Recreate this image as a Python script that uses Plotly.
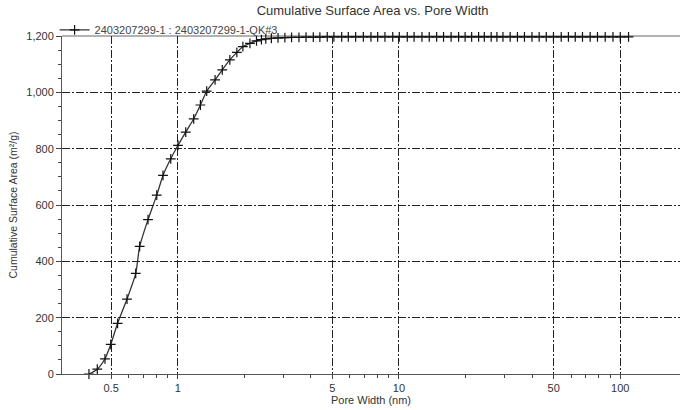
import plotly.graph_objects as go

pore_width = [0.397, 0.433, 0.469, 0.498, 0.535, 0.590, 0.646, 0.673, 0.734,
              0.804, 0.858, 0.930, 1.003, 1.087, 1.181, 1.266, 1.352, 1.475,
              1.59, 1.72, 1.85, 1.97, 2.12, 2.27,
              2.39, 2.50, 2.65, 2.84, 3.05, 3.27, 3.53, 3.80, 4.10, 4.39,
              4.74, 5.08, 5.51, 5.90, 6.37, 6.90, 7.47, 8.01, 8.64, 9.37,
              10.03, 10.9, 11.7, 12.7, 13.7, 14.8, 15.9, 17.2, 18.6, 19.9,
              21.3, 22.9, 24.3, 26.1, 27.7, 29.5, 31.8, 34.3, 36.9, 39.9,
              43.0, 46.3, 49.9, 54.1, 58.3, 62.6, 67.5, 73.1, 78.9, 85.5,
              92.7, 100.0, 109.0]
cum_area = [0, 17, 54, 105, 180, 266, 357, 453, 548,
            635, 705, 764, 812, 859, 906, 955, 1004, 1044,
            1080, 1115, 1142, 1162, 1174, 1183,
            1187, 1190, 1192, 1193, 1194, 1195, 1195, 1196, 1196, 1196,
            1197, 1197, 1197, 1197, 1197, 1197, 1197, 1197, 1197, 1197,
            1197, 1197, 1197, 1197, 1197, 1197, 1197, 1197, 1197, 1197,
            1197, 1197, 1197, 1197, 1197, 1197, 1197, 1197, 1197, 1197,
            1197, 1197, 1197, 1197, 1197, 1197, 1197, 1197, 1197, 1197,
            1197, 1197, 1197]

x_tick_vals = [0.5, 1, 5, 10, 50, 100]
x_tick_text = ["0.5", "1", "5", "10", "50", "100"]
x_minor_vals = [0.6, 0.7, 0.8, 0.9, 2, 3, 4, 6, 7, 8, 9, 20, 30, 40, 60, 70, 80, 90]
y_tick_vals = [0, 200, 400, 600, 800, 1000, 1200]

series_name = "2403207299-1 : 2403207299-1-QK#3"
title_text = "Cumulative Surface Area vs. Pore Width"
font_family = "Liberation Sans, Arial, sans-serif"

fig = go.Figure()
fig.add_trace(go.Scatter(
    x=pore_width, y=cum_area, mode="lines+markers", name=series_name,
    line=dict(color="#333333", width=1.3, shape="spline", smoothing=0.6),
    marker=dict(symbol="cross-thin", size=7, line=dict(color="#111111", width=1.2)),
    cliponaxis=False,
))

griddash = "8px,2px,2px,2px"
fig.update_layout(
    width=680, height=410,
    margin=dict(l=62, r=0, t=36, b=36),
    paper_bgcolor="white", plot_bgcolor="white",
    font=dict(family=font_family, color="#333333", size=11),
    title=dict(text=title_text, x=0.548, xanchor="center", y=0.975, yanchor="middle",
               font=dict(size=13, color="#333333")),
    showlegend=True,
    legend=dict(x=-0.012, xanchor="left", y=1.018, yanchor="middle",
                bgcolor="rgba(0,0,0,0)", font=dict(size=11, color="#444444"),
                itemwidth=30, tracegroupgap=0),
    xaxis=dict(
        type="log", range=[-0.523, 2.27],
        tickmode="array", tickvals=x_tick_vals, ticktext=x_tick_text,
        ticks="outside", ticklen=4, tickcolor="#444444",
        showline=True, linecolor="#555555", linewidth=1, mirror=False,
        showgrid=True, gridcolor="#222222", gridwidth=1, griddash=griddash,
        zeroline=False,
        tickfont=dict(size=11, color="#333333"),
        title=dict(text="Pore Width (nm)", font=dict(size=11, color="#333333"), standoff=0),
        minor=dict(tickmode="array", tickvals=x_minor_vals, ticks="outside", ticklen=3,
                   tickcolor="#444444", showgrid=False),
    ),
    yaxis=dict(
        range=[0, 1200], tickmode="array", tickvals=y_tick_vals, tickformat=",d",
        ticks="outside", ticklen=5, tickcolor="#444444",
        showline=True, linecolor="#555555", linewidth=1,
        showgrid=True, gridcolor="#222222", gridwidth=1, griddash=griddash,
        zeroline=False,
        tickfont=dict(size=11, color="#333333"),
        title=dict(text="Cumulative Surface Area (m²/g)", font=dict(size=10.5, color="#333333"), standoff=6),
        minor=dict(dtick=50, ticks="outside", ticklen=3, tickcolor="#444444", showgrid=False),
    ),
    shapes=[dict(type="line", xref="paper", yref="paper", x0=0, x1=1, y0=1, y1=1,
                 line=dict(color="#999999", width=1.5), layer="below")],
)

fig.write_html("out.html")
